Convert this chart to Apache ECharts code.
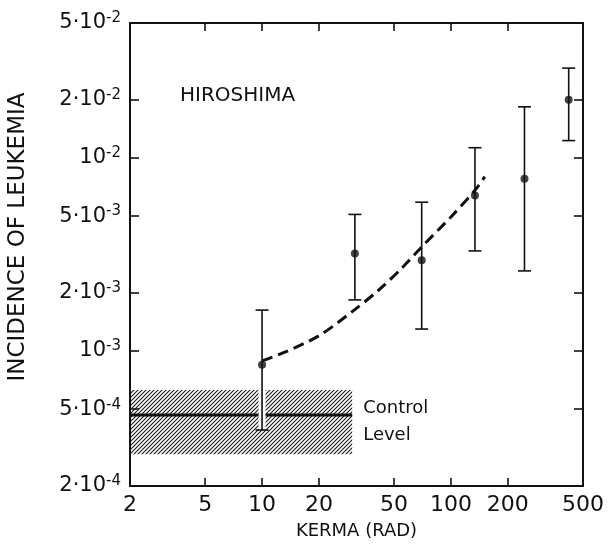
<!DOCTYPE html>
<html>
<head>
<meta charset="utf-8">
<script src="https://cdn.jsdelivr.net/npm/echarts@6/dist/echarts.min.js"></script>
<style>
html,body{margin:0;padding:0;background:#fff;}
#chart{width:609px;height:546px;}
</style>
</head>
<body>
<div id="chart"></div>
<script>
// ---- data ----
const doseKerma = [10, 31, 70, 134, 245, 420];
const incidence = [8.5e-4, 3.2e-3, 2.95e-3, 6.4e-3, 7.8e-3, 2.0e-2];
const errLow = [3.9e-4, 1.84e-3, 1.3e-3, 3.3e-3, 2.6e-3, 1.23e-2];
const errHigh = [1.63e-3, 5.1e-3, 5.9e-3, 1.13e-2, 1.84e-2, 2.92e-2];

const fitX = [10, 13, 20, 30, 41, 55, 70, 100, 134, 151];
const fitY = [8.9e-4, 9.8e-4, 1.2e-3, 1.6e-3, 2.05e-3, 2.69e-3, 3.46e-3, 4.95e-3, 6.8e-3, 8.0e-3];

const controlX = [2, 30];
const controlLevel = 4.66e-4;
const controlBand = [2.92e-4, 6.28e-4];

const xTickLabels = [2, 5, 10, 20, 50, 100, 200, 500];
const xTicks = [5, 10, 20, 50, 100, 200];
const yTickValues = [5e-2, 2e-2, 1e-2, 5e-3, 2e-3, 1e-3, 5e-4, 2e-4];
const yTickText = ['5·10|-2', '2·10|-2', '10|-2', '5·10|-3', '2·10|-3', '10|-3', '5·10|-4', '2·10|-4'];
const yTicks = [2e-2, 1e-2, 5e-3, 2e-3, 1e-3, 5e-4];

// ---- hatch pattern ----
const pc = document.createElement('canvas');
pc.width = 4; pc.height = 4;
const g = pc.getContext('2d');
g.strokeStyle = '#1a1a1a';
g.lineWidth = 1.1;
g.beginPath();
g.moveTo(-1, 5); g.lineTo(5, -1);
g.moveTo(-1, 1); g.lineTo(1, -1);
g.moveTo(3, 5); g.lineTo(5, 3);
g.stroke();

const FONT = 'DejaVu Sans';
const chart = echarts.init(document.getElementById('chart'), null, {renderer: 'canvas'});

function yFmt(v) {
  let best = 0, bd = Infinity;
  yTickValues.forEach((t, i) => { const d = Math.abs(Math.log10(t) - Math.log10(v)); if (d < bd) { bd = d; best = i; } });
  const parts = yTickText[best].split('|');
  return '{b|' + parts[0] + '}{s|' + parts[1] + '}';
}

const axisLineStyle = {color: '#111', width: 2};
const baseX = {
  type: 'log', logBase: 10, min: 2, max: 500,
  axisLine: {show: true, lineStyle: axisLineStyle},
  axisTick: {show: true, inside: true, length: 8, customValues: xTicks, lineStyle: {color: '#111', width: 1.6}},
  splitLine: {show: false},
  minorTick: {show: false}
};
const baseY = {
  type: 'log', logBase: 10, min: 2e-4, max: 5e-2,
  axisLine: {show: true, lineStyle: axisLineStyle},
  axisTick: {show: true, inside: true, length: 9, customValues: yTicks, lineStyle: {color: '#111', width: 1.6}},
  splitLine: {show: false},
  minorTick: {show: false}
};

const option = {
  backgroundColor: '#fff',
  animation: false,
  grid: {left: 130, right: 26, top: 23, bottom: 60},
  xAxis: [
    Object.assign({}, baseX, {
      position: 'bottom',
      name: 'KERMA (RAD)', nameLocation: 'middle', nameGap: 36,
      nameTextStyle: {fontFamily: FONT, fontSize: 18, color: '#111', verticalAlign: 'top'},
      axisLabel: {customValues: xTickLabels, fontFamily: FONT, fontSize: 22, color: '#111', margin: 8,
        formatter: v => String(Math.round(v))}
    }),
    Object.assign({}, baseX, {position: 'top', axisLabel: {show: false}})
  ],
  yAxis: [
    Object.assign({}, baseY, {
      position: 'left',
      axisLabel: {customValues: yTickValues, margin: 9, formatter: yFmt,
        rich: {
          b: {fontFamily: FONT, fontSize: 21, color: '#111', lineHeight: 24},
          s: {fontFamily: FONT, fontSize: 15, color: '#111', lineHeight: 14, verticalAlign: 'top'}
        }}
    }),
    Object.assign({}, baseY, {position: 'right', axisLabel: {show: false}})
  ],
  graphic: [
    {type: 'text', x: 180, y: 96, style: {text: 'HIROSHIMA', font: '20px "DejaVu Sans"', fill: '#111', verticalAlign: 'middle'}},
    {type: 'text', x: 18, y: 237, rotation: Math.PI / 2,
      style: {text: 'INCIDENCE OF LEUKEMIA', font: '23px "DejaVu Sans"', fill: '#111', align: 'center', verticalAlign: 'middle'}}
  ],
  series: [
    {
      type: 'line', z: 2,
      data: controlX.map(x => [x, controlLevel]),
      symbol: 'none', lineStyle: {color: '#111', width: 3},
      markArea: {
        silent: true,
        itemStyle: {color: {image: pc, repeat: 'repeat'}},
        label: {show: true, position: 'right', distance: 11, formatter: 'Control\nLevel',
          fontFamily: FONT, fontSize: 18, lineHeight: 27, color: '#111'},
        data: [[{xAxis: controlX[0], yAxis: controlBand[0]}, {xAxis: controlX[1], yAxis: controlBand[1]}]]
      }
    },
    {
      type: 'custom', z: 3,
      data: doseKerma.map((x, i) => [x, incidence[i], errLow[i], errHigh[i]]),
      renderItem: function (params, api) {
        const x = api.value(0);
        const top = api.coord([x, api.value(3)]);
        const bot = api.coord([x, api.value(2)]);
        const w = 6.5;
        const st = {stroke: '#111', lineWidth: 1.6};
        return {type: 'group', children: [
          {type: 'line', shape: {x1: top[0], y1: top[1], x2: bot[0], y2: bot[1]}, style: {stroke: '#fff', lineWidth: 7}},
          {type: 'line', shape: {x1: top[0], y1: top[1], x2: bot[0], y2: bot[1]}, style: st},
          {type: 'line', shape: {x1: top[0] - w, y1: top[1], x2: top[0] + w, y2: top[1]}, style: st},
          {type: 'line', shape: {x1: bot[0] - w, y1: bot[1], x2: bot[0] + w, y2: bot[1]}, style: st}
        ]};
      }
    },
    {
      type: 'line', z: 4, smooth: 0.3,
      data: fitX.map((x, i) => [x, fitY[i]]),
      symbol: 'none', lineStyle: {color: '#111', width: 3, type: [11, 6]}
    },
    {
      type: 'scatter', z: 5,
      data: doseKerma.map((x, i) => [x, incidence[i]]),
      symbol: 'circle', symbolSize: 8, itemStyle: {color: '#111'}
    }
  ]
};
chart.setOption(option);
</script>
</body>
</html>
